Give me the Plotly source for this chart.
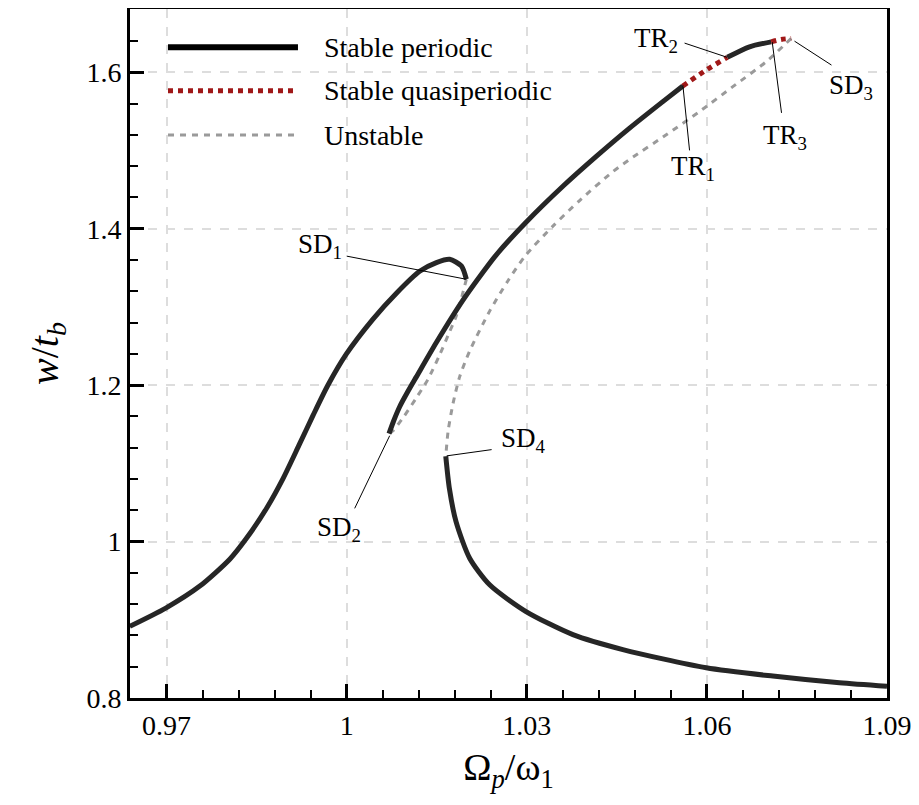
import plotly.graph_objects as go

# ---------------- data ----------------
# Left resonance branch, stable periodic (ends at SD1)
left_x = [0.96387, 0.96986, 0.97553, 0.98052, 0.98330, 0.98663, 0.98939, 0.99217,
          0.99439, 0.99684, 0.99995, 1.00438, 1.00828, 1.01215, 1.01494, 1.01715,
          1.01910, 1.01993]
left_y = [0.8917, 0.9150, 0.9431, 0.9775, 1.0042, 1.0424, 1.0806, 1.1252,
          1.1613, 1.1995, 1.2399, 1.2845, 1.3176, 1.3456, 1.3567, 1.3609,
          1.3524, 1.3354]

# Upper branch, stable periodic (SD2 -> TR1)
upper_x = [1.00704, 1.00783, 1.00882, 1.01016, 1.01160, 1.01493, 1.01936, 1.02269,
           1.02492, 1.02980, 1.03601, 1.04157, 1.04712, 1.05266, 1.05599]
upper_y = [1.1380, 1.1545, 1.1724, 1.1915, 1.2106, 1.2545, 1.3087, 1.3444,
           1.3667, 1.4077, 1.4543, 1.4925, 1.5287, 1.5626, 1.5826]

# Quasiperiodic TR1 -> TR2
quasi1_x = [1.05599, 1.05989, 1.06339]
quasi1_y = [1.5826, 1.6030, 1.6192]

# Stable periodic TR2 -> TR3
stable2_x = [1.06339, 1.06710, 1.07071]
stable2_y = [1.6192, 1.6327, 1.6390]

# Quasiperiodic TR3 -> SD3
quasi2_x = [1.07071, 1.07238, 1.07404]
quasi2_y = [1.6390, 1.6421, 1.6434]

# Unstable SD3 -> SD4
unst_out_x = [1.07404, 1.06988, 1.06432, 1.05877, 1.05323, 1.04767, 1.04434, 1.03879,
              1.03435, 1.02980, 1.02681, 1.02381, 1.02048, 1.01881, 1.01770, 1.01690,
              1.01650]
unst_out_y = [1.6434, 1.6136, 1.5817, 1.5499, 1.5202, 1.4915, 1.4730, 1.4361,
              1.4033, 1.3660, 1.3329, 1.2947, 1.2437, 1.2106, 1.1762, 1.1418,
              1.1090]

# Unstable SD1 -> SD2
unst_in_x = [1.01993, 1.01915, 1.01826, 1.01698, 1.01548, 1.01349, 1.01160, 1.00949,
             1.00771, 1.00704]
unst_in_y = [1.3354, 1.3124, 1.2887, 1.2654, 1.2387, 1.2068, 1.1838, 1.1595,
             1.1418, 1.1380]

# Lower branch, stable periodic (SD4 -> right)
lower_x = [1.01650, 1.01710, 1.01821, 1.02048, 1.02381, 1.02980, 1.03768, 1.04600,
           1.05989, 1.07098, 1.08208, 1.09]
lower_y = [1.1090, 1.0679, 1.0255, 0.9787, 0.9447, 0.9108, 0.8810, 0.8619,
           0.8386, 0.8280, 0.8195, 0.8150]

# Point labels: text position and leader line (from -> to)
pt_names = ["SD<sub>1</sub>", "SD<sub>2</sub>", "SD<sub>3</sub>", "SD<sub>4</sub>",
            "TR<sub>1</sub>", "TR<sub>2</sub>", "TR<sub>3</sub>"]
pt_text_x = [0.99550, 0.99867, 1.08392, 1.02947, 1.05761, 1.05145, 1.07293]
pt_text_y = [1.3775, 1.0157, 1.5813, 1.1303, 1.4781, 1.6412, 1.5176]
lead_x0 = [1.00000, 1.00133, 1.08075, 1.02414, 1.05711, 1.05628, 1.07243]
lead_y0 = [1.3650, 1.0425, 1.6093, 1.1176, 1.5002, 1.6374, 1.5482]
lead_x1 = [1.01993, 1.00716, 1.07459, 1.01665, 1.05599, 1.06339, 1.07088]
lead_y1 = [1.3354, 1.1354, 1.6399, 1.1096, 1.5839, 1.6192, 1.6387]

x_ticks = [0.97, 1.0, 1.03, 1.06, 1.09]
x_ticktext = ["0.97", "1", "1.03", "1.06", "1.09"]
y_ticks = [0.8, 1.0, 1.2, 1.4, 1.6]
y_ticktext = ["0.8", "1", "1.2", "1.4", "1.6"]
x_minor = [0.976, 0.982, 0.988, 0.994, 1.006, 1.012, 1.018, 1.024, 1.036, 1.042,
           1.048, 1.054, 1.066, 1.072, 1.078, 1.084]
y_minor = [0.84, 0.88, 0.92, 0.96, 1.04, 1.08, 1.12, 1.16, 1.24, 1.28, 1.32, 1.36,
           1.44, 1.48, 1.52, 1.56, 1.64]

legend_names = ["Stable periodic", "Stable quasiperiodic", "Unstable"]

# ---------------- styles ----------------
FONT = "Liberation Serif"
STABLE = dict(color="#262626", width=5)
QUASI = dict(color="#a01818", width=5, dash="dot")
UNST = dict(color="#9a9a9a", width=3, dash="6px,6px")

fig = go.Figure()

def add(x, y, line):
    fig.add_trace(go.Scatter(x=x, y=y, mode="lines",
                             line=dict(shape="spline", smoothing=0.7, **line),
                             showlegend=False, hoverinfo="skip"))

add(unst_out_x, unst_out_y, UNST)
add(unst_in_x, unst_in_y, UNST)
add(left_x, left_y, STABLE)
add(upper_x, upper_y, STABLE)
add(stable2_x, stable2_y, STABLE)
add(lower_x, lower_y, STABLE)
add(quasi1_x, quasi1_y, QUASI)
add(quasi2_x, quasi2_y, QUASI)

# leader lines and labels
for i, name in enumerate(pt_names):
    fig.add_shape(type="line", xref="x", yref="y", x0=lead_x0[i], y0=lead_y0[i],
                  x1=lead_x1[i], y1=lead_y1[i], line=dict(color="black", width=1))
    fig.add_annotation(x=pt_text_x[i], y=pt_text_y[i], xref="x", yref="y", text=name,
                       showarrow=False, font=dict(family=FONT, size=27, color="black"))

# manual legend (long line samples as in the reference)
leg_y = [0.9444, 0.8814, 0.8171]
leg_styles = [STABLE, QUASI, UNST]
for i, name in enumerate(legend_names):
    st = dict(leg_styles[i])
    if i == 0:
        st["color"] = "black"
        st["width"] = 6
    fig.add_shape(type="line", xref="paper", yref="paper", x0=0.0502, x1=0.2219,
                  y0=leg_y[i], y1=leg_y[i], line=st)
    fig.add_annotation(x=0.2536, y=leg_y[i], xref="paper", yref="paper", text=name,
                       showarrow=False, xanchor="left", yanchor="middle",
                       font=dict(family=FONT, size=28, color="black"))

axis_common = dict(
    showline=True, linewidth=3, linecolor="black", mirror=True,
    ticks="inside", ticklen=14, tickwidth=3, tickcolor="black",
    showgrid=True, gridcolor="#dddddd", gridwidth=1.5, griddash="dash",
    zeroline=False, tickfont=dict(family=FONT, size=28, color="black"),
    ticklabeloverflow="allow",
)

fig.update_xaxes(range=[0.9639, 1.09], tickmode="array", tickvals=x_ticks, ticktext=x_ticktext,
                 minor=dict(tickmode="array", tickvals=x_minor, ticks="inside", ticklen=8,
                            tickwidth=1.5, tickcolor="black", showgrid=False),
                 title=dict(text="Ω<sub><i>p</i></sub>/ω<sub>1</sub>",
                            font=dict(family=FONT, size=38, color="black"), standoff=14),
                 **axis_common)
fig.update_yaxes(range=[0.8, 1.681], tickmode="array", tickvals=y_ticks, ticktext=y_ticktext,
                 minor=dict(tickmode="array", tickvals=y_minor, ticks="inside", ticklen=8,
                            tickwidth=1.5, tickcolor="black", showgrid=False),
                 title=dict(text="<i>w</i>/<i>t</i><sub><i>b</i></sub>",
                            font=dict(family=FONT, size=40, color="black"), standoff=16),
                 **axis_common)

# page body has an 8px default margin, so the figure is 8px smaller and offset
fig.update_layout(
    width=911, height=797,
    margin=dict(l=122, r=32, t=1, b=107, autoexpand=False),
    plot_bgcolor="white", paper_bgcolor="white",
    showlegend=False,
)

fig.write_html("out.html")
